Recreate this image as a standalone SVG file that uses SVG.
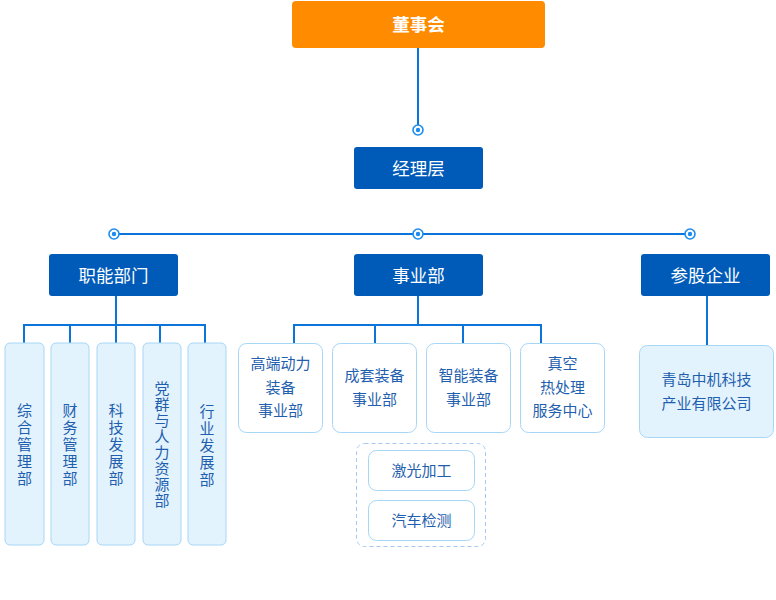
<svg xmlns="http://www.w3.org/2000/svg" width="776" height="600" viewBox="0 0 776 600">
<style>
.t{font-family:"Noto Sans CJK SC","Noto Sans",sans-serif;}
.hd{fill:#005BB8;}
.hdt{fill:#fff;font-size:17.5px;text-anchor:middle;}
.lb{fill:#E3F3FD;stroke:#A6D6F6;stroke-width:1;}
.lt{fill:#1F5FAE;font-size:15px;text-anchor:middle;}
.vt{fill:#1F5FAE;font-size:15px;text-anchor:middle;writing-mode:vertical-rl;letter-spacing:2px;}
.ln{stroke:#0A74DA;stroke-width:2;fill:none;}
.dot{fill:#fff;stroke:#1A8CF0;stroke-width:1.6;}
.dc{fill:#1A8CF0;}
</style>
<rect width="776" height="600" fill="#fff"/>
<g id="connectors">
<path class="ln" d="M418 48V128"/>
<path class="ln" d="M114 234H690"/>
<path class="ln" d="M116 296V325M24 343V325H205V343M70 325V343M116 325V343M160 325V343"/>
<path class="ln" d="M418 296V325M294 343V325H541V343M375 325V343M463 325V343"/>
<path class="ln" d="M707 296V345"/>
<g>
<circle class="dot" cx="418" cy="130" r="5"/><circle class="dc" cx="418" cy="130" r="2.2"/>
<circle class="dot" cx="114" cy="234" r="5"/><circle class="dc" cx="114" cy="234" r="2.2"/>
<circle class="dot" cx="418" cy="234" r="5"/><circle class="dc" cx="418" cy="234" r="2.2"/>
<circle class="dot" cx="690" cy="234" r="5"/><circle class="dc" cx="690" cy="234" r="2.2"/>
</g>
</g>
<g id="board"><rect x="292" y="1" width="253" height="47" rx="4" fill="#FF8C00"/><text class="t" x="418.5" y="30.5" fill="#fff" font-size="17.5" font-weight="bold" text-anchor="middle">董事会</text></g>
<g id="manager"><rect class="hd" x="354" y="147" width="129" height="42" rx="3"/><text class="t hdt" x="418.5" y="174.5">经理层</text></g>
<g id="func"><rect class="hd" x="49" y="254" width="129" height="42" rx="3"/><text class="t hdt" x="113.5" y="281.5">职能部门</text></g>
<g id="biz"><rect class="hd" x="354" y="254" width="129" height="42" rx="3"/><text class="t hdt" x="418.5" y="281.5">事业部</text></g>
<g id="equity"><rect class="hd" x="641" y="254" width="129" height="42" rx="3"/><text class="t hdt" x="705.5" y="281.5">参股企业</text></g>
<g id="f1"><rect class="lb" x="5" y="343" width="39" height="202" rx="5"/><text class="t vt" x="24.5" y="445">综合管理部</text></g>
<g id="f2"><rect class="lb" x="51" y="343" width="38" height="202" rx="5"/><text class="t vt" x="70" y="445">财务管理部</text></g>
<g id="f3"><rect class="lb" x="97" y="343" width="38" height="202" rx="5"/><text class="t vt" x="116" y="445">科技发展部</text></g>
<g id="f4"><rect class="lb" x="143" y="343" width="38" height="202" rx="5"/><text class="t vt" x="162" y="445" style="letter-spacing:1px">党群与人力资源部</text></g>
<g id="f5"><rect class="lb" x="188" y="343" width="38" height="202" rx="5"/><text class="t vt" x="207" y="446">行业发展部</text></g>
<g id="b1"><rect x="238.5" y="343.5" width="84" height="89" rx="8" fill="#fff" stroke="#A6D6F6"/><text class="t lt"><tspan x="280.5" y="369">高端动力</tspan><tspan x="280.5" y="393">装备</tspan><tspan x="280.5" y="416">事业部</tspan></text></g>
<g id="b2"><rect x="332.5" y="343.5" width="84" height="89" rx="8" fill="#fff" stroke="#A6D6F6"/><text class="t lt"><tspan x="374.5" y="381">成套装备</tspan><tspan x="374.5" y="405">事业部</tspan></text></g>
<g id="b3"><rect x="426.5" y="343.5" width="84" height="89" rx="8" fill="#fff" stroke="#A6D6F6"/><text class="t lt"><tspan x="468.5" y="381">智能装备</tspan><tspan x="468.5" y="405">事业部</tspan></text></g>
<g id="b4"><rect x="520.5" y="343.5" width="84" height="89" rx="8" fill="#fff" stroke="#A6D6F6"/><text class="t lt"><tspan x="562.5" y="369">真空</tspan><tspan x="562.5" y="393">热处理</tspan><tspan x="562.5" y="416">服务中心</tspan></text></g>
<g id="group"><rect x="356.5" y="443.5" width="129" height="103" rx="8" fill="none" stroke="#A6C8F0" stroke-dasharray="4 3"/></g>
<g id="laser"><rect x="368.5" y="450.5" width="106" height="40" rx="8" fill="#fff" stroke="#A6D6F6"/><text class="t lt" x="421.5" y="476">激光加工</text></g>
<g id="auto"><rect x="368.5" y="500.5" width="106" height="40" rx="8" fill="#fff" stroke="#A6D6F6"/><text class="t lt" x="421.5" y="526">汽车检测</text></g>
<g id="qd"><rect class="lb" x="639.5" y="345.5" width="134" height="92" rx="8"/><text class="t lt"><tspan x="706.5" y="385">青岛中机科技</tspan><tspan x="706.5" y="409">产业有限公司</tspan></text></g>
</svg>
